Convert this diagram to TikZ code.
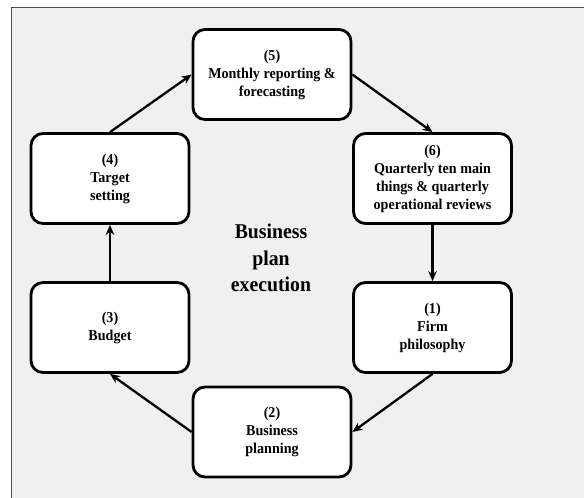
\documentclass[tikz,border=0pt]{standalone}
\usepackage{fontspec}
\setmainfont{Liberation Serif}[FakeStretch=0.94]
\usetikzlibrary{arrows.meta}

\begin{document}
\begin{tikzpicture}[x=1pt,y=-1pt,
    stage/.style={draw, line width=2.8pt, rounded corners=12pt, fill=white,
        minimum width=158pt, minimum height=90pt, align=center,
        font=\fontsize{15pt}{18pt}\selectfont\bfseries},
    flow/.style={line width=2.3pt, -{Stealth[length=10pt,width=8.5pt]}}]
\useasboundingbox (0, 0) rectangle (584, 498);
\draw[fill={rgb,255:red,240;green,240;blue,240}, draw={rgb,255:red,80;green,80;blue,80}, line width=1.6pt]
    (11.5, 499) -- (11.5, 7.5) -- (585, 7.5) -- (585, 499);
\node[stage] (node5) at (272, 74.5){(5)\\Monthly reporting \&\\forecasting};
\node[stage] (node4) at (110, 178.5){(4)\\Target\\setting};
\node[stage] (node6) at (432.5, 178.5){(6)\\Quarterly ten main\\things \& quarterly\\operational reviews};
\node[stage] (node3) at (110, 327.5){(3)\\Budget};
\node[stage] (node1) at (432.5, 327.5){(1)\\Firm\\philosophy};
\node[stage] (node2) at (272, 432){(2)\\Business\\planning};
\node[align=center, font=\fontsize{21pt}{26.7pt}\selectfont\bfseries] (node0) at (271, 258){Business\\plan\\execution};
\draw[flow](node4.north) -- (node5.west);
\draw[flow](node5.east) -- (node6.north);
\draw[flow](node6.south) -- (node1.north);
\draw[flow](node1.south) -- (node2.east);
\draw[flow](node2.west) -- (node3.south);
\draw[flow](node3.north) -- (node4.south);
\end{tikzpicture}
\end{document}
